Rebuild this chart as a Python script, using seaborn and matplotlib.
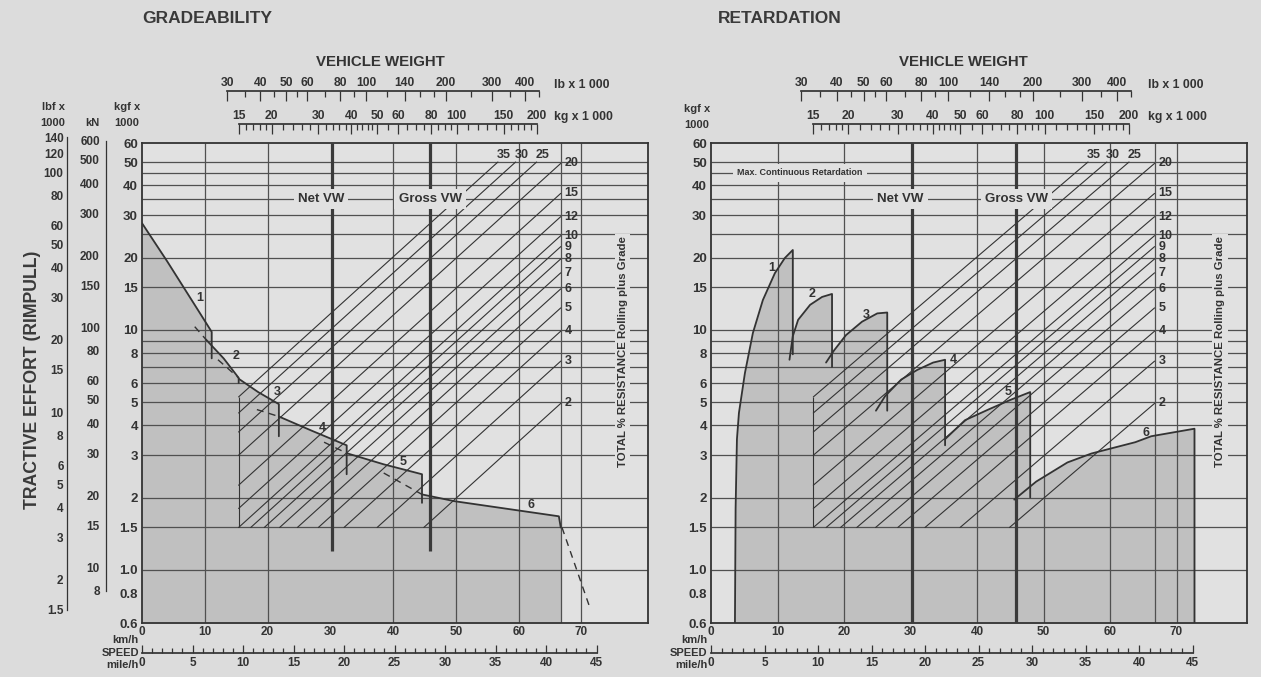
import numpy as np
import matplotlib
matplotlib.use("Agg")
import matplotlib.pyplot as plt
import matplotlib.ticker as mticker
import seaborn as sns

sns.set_theme(style="white")
plt.rcParams["font.family"] = ["Liberation Sans", "DejaVu Sans"]
plt.rcParams["font.weight"] = "bold"

BG = "#dcdcdc"
AXBG = "#e1e1e1"
FILL = "#c0c0c0"
INK = "#333333"
GRID = "#505050"

# ---------------- data ----------------
speed_ticks = [0, 10, 20, 30, 40, 50, 60, 70]            # km/h
mph_ticks = [0, 5, 10, 15, 20, 25, 30, 35, 40, 45]       # mile/h
speed_grid = [10, 20, 40, 50, 60, 66.7, 70]
net_vw = 30.3
gross_vw = 45.8

force_ticks = [60, 50, 40, 30, 20, 15, 10, 8, 6, 5, 4, 3, 2, 1.5, 1.0, 0.8, 0.6]   # kgf x 1000
force_labels = ["60", "50", "40", "30", "20", "15", "10", "8", "6", "5", "4", "3",
                "2", "1.5", "1.0", "0.8", "0.6"]
force_minor = [27.5, 22.5, 17.5, 12.5, 4.5, 3.5, 2.5, 0.9, 0.8, 0.7]
force_grid = [50, 45, 40, 35, 30, 25, 20, 15, 10, 9, 8, 7, 6, 5, 4, 3, 2, 1.5, 1.0]
kn_ticks = [600, 500, 400, 300, 200, 150, 100, 80, 60, 50, 40, 30, 20, 15, 10, 8]
lbf_ticks = [140, 120, 100, 80, 60, 50, 40, 30, 20, 15, 10, 8, 6, 5, 4, 3, 2, 1.5]
lbf_minor = [70, 12, 2.5]

lb_ticks = [30, 40, 50, 60, 80, 100, 140, 200, 300, 400]      # lb x 1000
lb_minor = [35, 45, 55, 70, 90, 120, 160, 180, 250, 350, 450]
kg_ticks = [15, 20, 30, 40, 50, 60, 80, 100, 150, 200]        # kg x 1000
kg_minor = [16, 17, 18, 19, 22, 24, 26, 28, 32, 34, 36, 38, 42, 44, 46, 48, 55, 65,
            70, 75, 85, 90, 95, 110, 120, 130, 140, 160, 170, 180, 190]

resistance_side = [20, 15, 12, 10, 9, 8, 7, 6, 5, 4, 3, 2]    # total resistance %
resistance_top = [35, 30, 25]

# gradeability: rimpull per gear (solid part), end of each gear drops to grade_drop
grade_x = [[0, 4, 8.9, 11.1], [10.2, 13.0, 15.4], [15.4, 18.5, 21.8],
           [21.8, 27.0, 32.6], [32.6, 38.5, 44.6], [44.6, 49.8, 66.4, 66.7]]
grade_y = [[27.8, 19.3, 12.1, 9.8], [9.1, 7.6, 6.3], [6.25, 5.5, 4.9],
           [4.35, 3.8, 3.3], [3.06, 2.75, 2.5], [2.06, 1.93, 1.67, 1.5]]
grade_drop = [7.6, 6.0, 3.6, 2.5, 1.9, 1.5]
# dashed continuations
grade_dash_x = [[8.4, 10.2], [12.1, 15.4], [18.3, 21.8], [29.0, 32.6], [38.5, 44.6], [66.9, 71.3]]
grade_dash_y = [[10.3, 9.1], [7.5, 6.3], [4.65, 4.35], [3.4, 3.06], [2.53, 2.06], [1.5, 0.7]]

# retardation per gear
retard_x = [[3.6, 3.7, 3.9, 4.2, 5.1, 6.3, 7.8, 9.6, 11.1, 12.3],
            [11.8, 12.3, 13.1, 14.9, 16.7, 18.2],
            [17.3, 18.5, 20.3, 22.7, 25.0, 26.5],
            [24.8, 26.2, 28.6, 31.0, 33.4, 35.2],
            [35.2, 38.2, 41.7, 45.0, 48.0],
            [45.6, 48.9, 53.6, 57.2, 63.8, 66.2, 72.7]]
retard_y = [[0.6, 1.8, 3.5, 4.5, 6.6, 9.7, 13.3, 17.2, 19.9, 21.5],
            [7.5, 9.4, 11.0, 12.7, 13.7, 14.1],
            [7.3, 8.2, 9.5, 10.8, 11.7, 11.8],
            [4.6, 5.3, 6.2, 6.8, 7.3, 7.5],
            [3.5, 4.2, 4.65, 5.1, 5.5],
            [1.96, 2.33, 2.8, 3.05, 3.4, 3.6, 3.87]]
retard_drop = [7.9, 7.0, 4.6, 3.3, 2.0, 0.6]

# ---------------- scale relations ----------------
W0, DEC = 13.6, 42.2     # chart x of 30 000 lb, chart units per decade of weight


def kmh_to_lb(x):
    return 30 * 10 ** ((np.asarray(x, float) - W0) / DEC)


def lb_to_kmh(w):
    return W0 + DEC * np.log10(np.maximum(np.asarray(w, float), 1e-9) / 30)


def kmh_to_kg(x):
    return kmh_to_lb(x) / 2.2046


def kg_to_kmh(w):
    return lb_to_kmh(np.asarray(w, float) * 2.2046)


W, H = 1261, 677


def px_box(x0, y0, x1, y1):
    return [x0 / W, 1 - y1 / H, (x1 - x0) / W, (y1 - y0) / H]


fig = plt.figure(figsize=(12.61, 6.77), dpi=100, facecolor=BG)
ax_g = fig.add_axes(px_box(142, 143, 648, 623))
ax_r = fig.add_axes(px_box(711, 143, 1247, 623))


def setup(ax):
    ax.set_facecolor(AXBG)
    ax.set_yscale("log")
    ax.set_xlim(0, 80.6)
    ax.set_ylim(0.6, 60)
    ax.set_yticks(force_ticks, labels=force_labels)
    ax.set_yticks(force_minor, minor=True)
    ax.yaxis.set_minor_formatter(mticker.NullFormatter())
    ax.tick_params(axis="y", which="major", length=0, pad=3, labelsize=9.5, colors=INK)
    ax.tick_params(axis="y", which="minor", direction="in", length=8, width=0.9, color=INK)
    major = list(range(0, 81, 5))
    ax.set_xticks(major, labels=[str(v) if v in speed_ticks else "" for v in major])
    ax.set_xticks(range(0, 81), minor=True)
    ax.tick_params(axis="x", which="major", direction="in", length=10, width=0.9, pad=2,
                   labelsize=8.5, colors=INK)
    ax.tick_params(axis="x", which="minor", direction="in", length=7, width=0.9, color=INK)
    for s in ax.spines.values():
        s.set_visible(True)
        s.set_color(INK)
        s.set_linewidth(1.3)
    ax.hlines(force_grid, 0, 80.6, color=GRID, lw=0.9, zorder=2)
    ax.vlines(speed_grid, 0.6, 60, color=GRID, lw=0.9, zorder=2)

    # mile/h scale
    mph = ax.secondary_xaxis(-0.0625, functions=(lambda k: k / 1.609, lambda m: m * 1.609))
    mph.set_xticks(mph_ticks, labels=[str(v) for v in mph_ticks])
    mph.set_xticks(range(0, 46), minor=True)
    mph.xaxis.set_minor_formatter(mticker.NullFormatter())
    mph.tick_params(which="major", direction="in", length=6, width=0.9, pad=3, labelsize=8.5,
                    colors=INK)
    mph.tick_params(which="minor", direction="in", length=3.5, width=0.9, color=INK)
    mph.spines["bottom"].set_bounds(0, 45)
    mph.spines["bottom"].set_color(INK)
    for txt, yf in [("km/h", -0.035), ("SPEED", -0.062), ("mile/h", -0.087)]:
        ax.text(-0.006, yf, txt, transform=ax.transAxes, ha="right", va="center",
                fontsize=8, color=INK)

    # vehicle weight scales
    for loc, fwd, inv, ticks, minor, lo, hi in [
            (1.108, kmh_to_lb, lb_to_kmh, lb_ticks, lb_minor, 30, 450),
            (1.040, kmh_to_kg, kg_to_kmh, kg_ticks, kg_minor, 15, 200)]:
        sec = ax.secondary_xaxis(loc, functions=(fwd, inv))
        sec.set_xticks(ticks, labels=[str(v) for v in ticks])
        sec.set_xticks(minor, minor=True)
        sec.xaxis.set_minor_formatter(mticker.NullFormatter())
        sec.tick_params(which="major", direction="in", length=7, width=0.9, pad=1.5,
                        labelsize=8.7, colors=INK)
        sec.tick_params(which="minor", direction="in", length=4, width=0.9, color=INK)
        sec.spines["top"].set_bounds(lo, hi)
        sec.spines["top"].set_color(INK)
    ax.text(65.7, 1.121, "lb x 1 000", transform=ax.get_xaxis_transform(), ha="left",
            va="center", fontsize=8.8, color=INK)
    ax.text(65.7, 1.054, "kg x 1 000", transform=ax.get_xaxis_transform(), ha="left",
            va="center", fontsize=8.8, color=INK)
    ax.text(38, 1.169, "VEHICLE WEIGHT", transform=ax.get_xaxis_transform(), ha="center",
            va="center", fontsize=10.8, color=INK)

    # total resistance lines
    x_left = float(kg_to_kmh(15))
    for p in resistance_side + resistance_top:
        x_lo = max(x_left, float(kg_to_kmh(1.5 * 100 / p)))
        x_hi = min(66.7, float(kg_to_kmh(50 * 100 / p)))
        xs = np.array([x_lo, x_hi])
        ax.plot(xs, kmh_to_kg(xs) * p / 100, color=INK, lw=0.8, zorder=3)
        if p in resistance_side:
            ax.text(67.3, float(kmh_to_kg(66.7)) * p / 100, str(p), ha="left", va="center",
                    fontsize=9, color=INK, zorder=5)
        else:
            ax.text(x_hi + 0.9, 50.5, str(p), ha="center", va="bottom", fontsize=9,
                    color=INK, zorder=5)
    ax.vlines(x_left, 1.5, 15 * 0.35, color=INK, lw=0.8, zorder=3)

    ax.text(28.5, 35, "Net VW", ha="center", va="center", fontsize=9.5, color=INK, zorder=5,
            bbox=dict(facecolor=AXBG, edgecolor="none", pad=3))
    ax.text(45.9, 35, "Gross VW", ha="center", va="center", fontsize=9.5, color=INK, zorder=5,
            bbox=dict(facecolor=AXBG, edgecolor="none", pad=3))
    ax.text(0.95, 0.565, "TOTAL % RESISTANCE Rolling plus Grade", transform=ax.transAxes,
            rotation=90, ha="center", va="center", fontsize=8.2, color=INK, zorder=5,
            bbox=dict(facecolor=AXBG, edgecolor="none", pad=2))


setup(ax_g)
setup(ax_r)

# ---------------- gradeability ----------------
ax = ax_g
for gx, gy, gd in zip(grade_x, grade_y, grade_drop):
    ax.fill_between(gx, gy, 0.6, facecolor=FILL, edgecolor=FILL, lw=0.6, zorder=1)
    sns.lineplot(x=gx + [gx[-1]], y=gy + [gd], ax=ax, sort=False, estimator=None,
                 color=INK, lw=1.3, zorder=4)
for dx, dy in zip(grade_dash_x, grade_dash_y):
    ax.plot(dx, dy, color=INK, lw=1.0, ls=(0, (5, 4)), zorder=4)
ax.vlines([net_vw, gross_vw], 1.2, 60, color="#3a3a3a", lw=2.3, zorder=3.5)
for i, (lx, ly) in enumerate([(9.2, 13.6), (15.0, 7.8), (21.5, 5.5), (28.8, 3.9),
                              (41.6, 2.8), (61.9, 1.86)]):
    ax.text(lx, ly, str(i + 1), ha="center", va="center", fontsize=9, color=INK, zorder=5)
ax.text(0, 1.26, "GRADEABILITY", transform=ax.transAxes, ha="left", va="center",
        fontsize=12.5, color="#3a3a3a")

# rimpull unit scales at the left
for x_px, conv, ticks, minor, lo, hi, direction, length, pad in [
        (67, 2.2046, lbf_ticks, lbf_minor, 1.5, 140, "in", 8.5, 2.5),
        (106, 9.80665, kn_ticks, [], 8, 600, "inout", 7, 1.0)]:
    sa = fig.add_axes(px_box(x_px, 131, x_px + 1, 623))
    sa.patch.set_visible(False)
    sa.set_yscale("log")
    sa.set_ylim(0.6 * conv, 60 * 10 ** (12 / 240) * conv)
    sa.set_xticks([])
    sa.set_yticks(ticks, labels=[f"{v:g}" for v in ticks])
    sa.set_yticks(minor, minor=True)
    sa.yaxis.set_minor_formatter(mticker.NullFormatter())
    sa.tick_params(axis="y", which="major", direction=direction, length=length, width=0.9,
                   pad=pad, labelsize=8.5, colors=INK)
    sa.tick_params(axis="y", which="minor", direction=direction, length=length * 0.6,
                   width=0.9, color=INK)
    for side in ["top", "right", "bottom"]:
        sa.spines[side].set_visible(False)
    sa.spines["left"].set_bounds(lo, hi)
    sa.spines["left"].set_color(INK)
    sa.spines["left"].set_linewidth(0.9)

for txt, x_px, y_px, ha in [("lbf x", 65, 107, "right"), ("1000", 65, 123, "right"),
                            ("kN", 92, 123, "center"), ("kgf x", 114, 107, "left"),
                            ("1000", 114, 123, "left"), ("kgf x", 684, 109, "left"),
                            ("1000", 684, 125, "left")]:
    fig.text(x_px / W, 1 - y_px / H, txt, ha=ha, va="center", fontsize=8, color=INK)
fig.text(33 / W, 1 - 380 / H, "TRACTIVE EFFORT (RIMPULL)", rotation=90, ha="center",
         va="center", fontsize=12.7, color="#3a3a3a")

# ---------------- retardation ----------------
ax = ax_r
for gx, gy, gd in zip(retard_x, retard_y, retard_drop):
    ax.fill_between(gx, gy, 0.6, facecolor=FILL, edgecolor=FILL, lw=0.6, zorder=1)
    sns.lineplot(x=gx + [gx[-1]], y=gy + [gd], ax=ax, sort=False, estimator=None,
                 color=INK, lw=1.3, zorder=4)
ax.vlines([net_vw, gross_vw], 0.6, 60, color="#3a3a3a", lw=2.3, zorder=3.5)
for i, (lx, ly) in enumerate([(9.2, 18.0), (15.2, 14.1), (23.4, 11.5), (36.4, 7.5),
                              (44.7, 5.5), (65.4, 3.7)]):
    ax.text(lx, ly, str(i + 1), ha="center", va="center", fontsize=9, color=INK, zorder=5)
ax.text(13.4, 45, "Max. Continuous Retardation", ha="center", va="center", fontsize=6.5,
        color=INK, zorder=5, bbox=dict(facecolor=AXBG, edgecolor="none", pad=3))
ax.text(0.013, 1.26, "RETARDATION", transform=ax.transAxes, ha="left", va="center",
        fontsize=12.5, color="#3a3a3a")

fig.savefig("out.png", dpi=100, facecolor=BG)
